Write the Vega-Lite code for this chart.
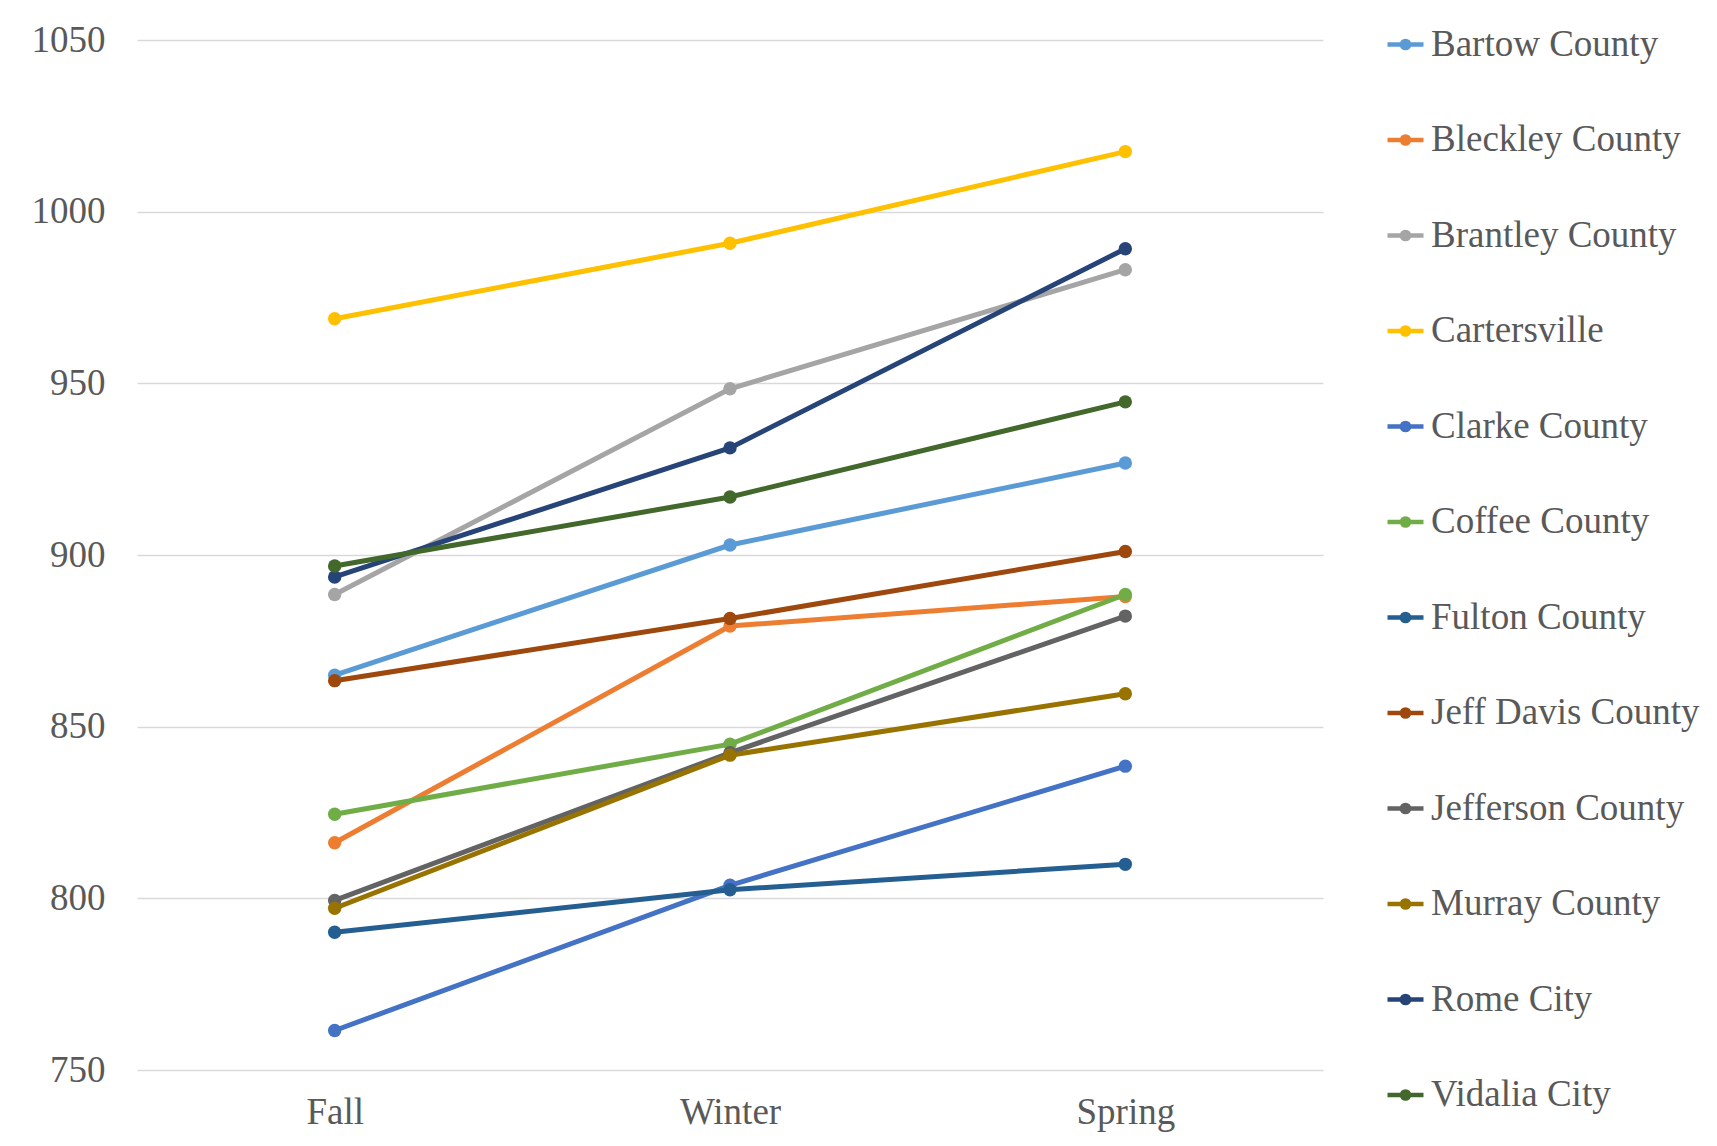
{
  "$schema": "https://vega.github.io/schema/vega-lite/v6.json",
  "width": 1186,
  "height": 1030,
  "autosize": {"type": "none"},
  "padding": {"left": 137, "top": 40, "right": 394, "bottom": 76},
  "background": "white",
  "config": {
    "view": {"stroke": null},
    "font": "Liberation Serif"
  },
  "data": {
    "values": [
      {"district": "Bartow County", "season": "Fall", "score": 865},
      {"district": "Bartow County", "season": "Winter", "score": 902.9},
      {"district": "Bartow County", "season": "Spring", "score": 926.8},
      {"district": "Bleckley County", "season": "Fall", "score": 816.2},
      {"district": "Bleckley County", "season": "Winter", "score": 879.3},
      {"district": "Bleckley County", "season": "Spring", "score": 887.9},
      {"district": "Brantley County", "season": "Fall", "score": 888.5},
      {"district": "Brantley County", "season": "Winter", "score": 948.4},
      {"district": "Brantley County", "season": "Spring", "score": 983.1},
      {"district": "Cartersville", "season": "Fall", "score": 968.8},
      {"district": "Cartersville", "season": "Winter", "score": 990.8},
      {"district": "Cartersville", "season": "Spring", "score": 1017.5},
      {"district": "Clarke County", "season": "Fall", "score": 761.5},
      {"district": "Clarke County", "season": "Winter", "score": 803.8},
      {"district": "Clarke County", "season": "Spring", "score": 838.5},
      {"district": "Coffee County", "season": "Fall", "score": 824.5},
      {"district": "Coffee County", "season": "Winter", "score": 844.9},
      {"district": "Coffee County", "season": "Spring", "score": 888.5},
      {"district": "Fulton County", "season": "Fall", "score": 790.1},
      {"district": "Fulton County", "season": "Winter", "score": 802.5},
      {"district": "Fulton County", "season": "Spring", "score": 809.9},
      {"district": "Jeff Davis County", "season": "Fall", "score": 863.4},
      {"district": "Jeff Davis County", "season": "Winter", "score": 881.5},
      {"district": "Jeff Davis County", "season": "Spring", "score": 901},
      {"district": "Jefferson County", "season": "Fall", "score": 799.4},
      {"district": "Jefferson County", "season": "Winter", "score": 842.4},
      {"district": "Jefferson County", "season": "Spring", "score": 882.2},
      {"district": "Murray County", "season": "Fall", "score": 797.1},
      {"district": "Murray County", "season": "Winter", "score": 841.7},
      {"district": "Murray County", "season": "Spring", "score": 859.6},
      {"district": "Rome City", "season": "Fall", "score": 893.6},
      {"district": "Rome City", "season": "Winter", "score": 931.2},
      {"district": "Rome City", "season": "Spring", "score": 989.2},
      {"district": "Vidalia City", "season": "Fall", "score": 896.8},
      {"district": "Vidalia City", "season": "Winter", "score": 916.9},
      {"district": "Vidalia City", "season": "Spring", "score": 944.6}
    ]
  },
  "encoding": {
    "x": {
      "field": "season",
      "type": "nominal",
      "sort": ["Fall", "Winter", "Spring"],
      "scale": {"type": "point", "padding": 0.5},
      "axis": {
        "title": null,
        "labelAngle": 0,
        "labelFont": "Liberation Serif",
        "labelFontSize": 37,
        "labelColor": "#595959",
        "labelPadding": 24,
        "ticks": false,
        "domain": false,
        "grid": false
      }
    },
    "y": {
      "field": "score",
      "type": "quantitative",
      "scale": {"domain": [750, 1050], "nice": false, "zero": false},
      "axis": {
        "title": null,
        "values": [750, 800, 850, 900, 950, 1000, 1050],
        "format": "d",
        "labelFont": "Liberation Serif",
        "labelFontSize": 37,
        "labelColor": "#595959",
        "labelPadding": 32,
        "ticks": false,
        "domain": false,
        "grid": true,
        "gridColor": "#D9D9D9",
        "gridWidth": 1.5
      }
    },
    "color": {
      "field": "district",
      "type": "nominal",
      "scale": {
        "domain": ["Bartow County", "Bleckley County", "Brantley County", "Cartersville", "Clarke County", "Coffee County", "Fulton County", "Jeff Davis County", "Jefferson County", "Murray County", "Rome City", "Vidalia City"],
        "range": ["#5B9BD5", "#ED7D31", "#A5A5A5", "#FFC000", "#4472C4", "#70AD47", "#255E91", "#9E480E", "#636363", "#997300", "#264478", "#43682B"]
      },
      "legend": {
        "title": null,
        "orient": "none",
        "legendX": 1248,
        "legendY": -16,
        "padding": 0,
        "rowPadding": 56.5,
        "labelFont": "Liberation Serif",
        "labelFontSize": 37,
        "labelColor": "#595959",
        "labelOffset": 5,
        "labelLimit": 400,
        "symbolType": "M-1,0H1M-0.2,0A0.2,0.2,0,1,1,0.2,0A0.2,0.2,0,1,1,-0.2,0",
        "symbolSize": 1296,
        "symbolStrokeWidth": 4.5
      }
    }
  },
  "layer": [
    {"mark": {"type": "line", "strokeWidth": 5}},
    {"mark": {"type": "circle", "size": 180, "opacity": 1}}
  ]
}
